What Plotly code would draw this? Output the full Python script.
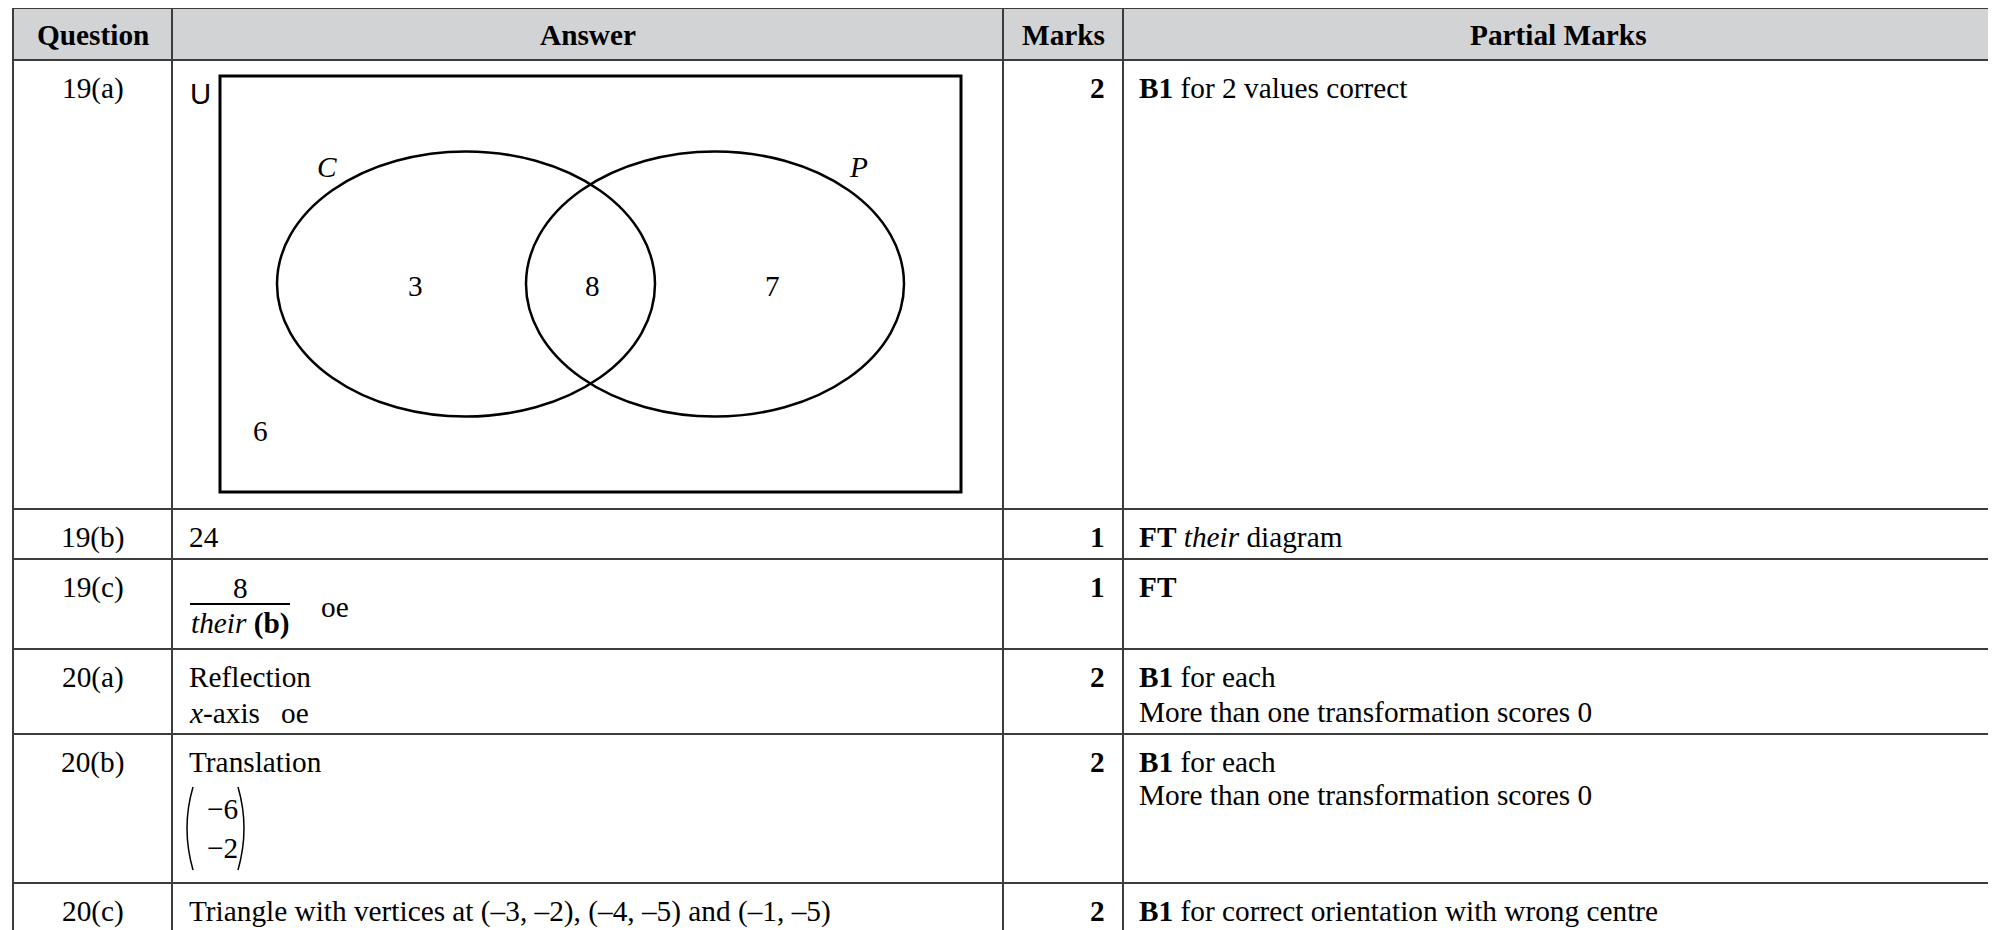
import plotly.graph_objects as go

# Table content
headers = ["Question", "Answer", "Marks", "Partial Marks"]
questions = ["19(a)", "19(b)", "19(c)", "20(a)", "20(b)", "20(c)"]
marks = [2, 1, 1, 2, 2, 2]
answers = [
    [],
    ["24"],
    [],
    ["Reflection", "<i>x</i>-axis"],
    ["Translation"],
    ["Triangle with vertices at (–3, –2), (–4, –5) and (–1, –5)"],
]
partial_marks = [
    ["<b>B1</b> for 2 values correct"],
    ["<b>FT</b> <i>their</i> diagram"],
    ["<b>FT</b>"],
    ["<b>B1</b> for each", "More than one transformation scores 0"],
    ["<b>B1</b> for each", "More than one transformation scores 0"],
    ["<b>B1</b> for correct orientation with wrong centre"],
]

# Venn diagram content for 19(a)
venn_sets = ["C", "P"]
venn_regions = ["C only", "C and P", "P only", "neither"]
venn_counts = [3, 8, 7, 6]

# 19(c) fraction and 20(b) vector
frac_num = "8"
frac_den = "<i>their</i> <b>(b)</b>"
vector = [-6, -2]

# Layout (page pixels); the page body adds an 8px margin, so the axes are shifted by it
W, H = 1996, 930
OFF = 8
col_edges = [13, 172, 1003, 1123, 1993]
row_edges = [8, 60, 509, 559, 649, 734, 883, 965]
FONT = "Liberation Serif"
FS = 29.3
GRID = "#3c3c3c"

fig = go.Figure()
fig.add_trace(go.Scatter(x=[OFF, W + OFF], y=[OFF, H + OFF], mode="markers",
                         marker=dict(opacity=0), hoverinfo="skip", showlegend=False))

shapes = []
annos = []


def txt(x, y, s, xanchor="left", size=FS, family=FONT):
    annos.append(dict(x=x, y=y, text=s, xanchor=xanchor, yanchor="middle",
                      showarrow=False, font=dict(family=family, size=size, color="black")))


# header background
shapes.append(dict(type="rect", x0=col_edges[0], x1=col_edges[-1], y0=row_edges[0], y1=row_edges[1],
                   fillcolor="#d2d3d5", line=dict(width=0), layer="below"))

# grid lines
for y in row_edges[:-1]:
    shapes.append(dict(type="line", x0=col_edges[0], x1=col_edges[-1], y0=y, y1=y,
                       line=dict(color=GRID, width=2)))
for i, x in enumerate(col_edges):
    w = 3 if i == len(col_edges) - 1 else 2
    shapes.append(dict(type="line", x0=x, x1=x, y0=row_edges[0], y1=row_edges[-1],
                       line=dict(color=GRID, width=w)))

# header text
for i, h in enumerate(headers):
    cx = (col_edges[i] + col_edges[i + 1]) / 2
    txt(cx, 35, "<b>" + h + "</b>", xanchor="center")

q_cx = (col_edges[0] + col_edges[1]) / 2
ans_x = col_edges[1] + 15
mark_x = col_edges[3] - 16
pm_x = col_edges[3] + 14

for r in range(len(questions)):
    top = row_edges[r + 1]
    y1 = top + 28
    txt(q_cx, y1, questions[r], xanchor="center")
    txt(mark_x, y1, "<b>%d</b>" % marks[r], xanchor="right")
    for k, line in enumerate(answers[r]):
        txt(ans_x, y1 + k * 36, line)
    for k, line in enumerate(partial_marks[r]):
        gap = 35 if r == 3 else 33
        txt(pm_x, y1 + k * gap, line)

# "oe" marks
txt(279, row_edges[4] + 28 + 36, "oe")

# 19(c) fraction
fx0, fx1, fy = 190, 290, 604
txt((fx0 + fx1) / 2, fy - 16, frac_num, xanchor="center")
shapes.append(dict(type="line", x0=fx0, x1=fx1, y0=fy, y1=fy, line=dict(color="black", width=2)))
txt((fx0 + fx1) / 2, fy + 19, frac_den, xanchor="center")
txt(319, fy + 3, "oe")

# 20(b) column vector
vt, vb = 787, 870
vm = (vt + vb) / 2
shapes.append(dict(type="path", path="M 193 %d Q 181 %d 193 %d" % (vt, vm, vb),
                   line=dict(color="black", width=1.5)))
shapes.append(dict(type="path", path="M 238 %d Q 250 %d 238 %d" % (vt, vm, vb),
                   line=dict(color="black", width=1.5)))
for k, v in enumerate(vector):
    txt(240, 809 + k * 39, "\u2212%d" % abs(v), xanchor="right")

# Venn diagram
rx0, rx1, ry0, ry1 = 220, 961, 76, 492
shapes.append(dict(type="rect", x0=rx0, x1=rx1, y0=ry0, y1=ry1, line=dict(color="black", width=3)))
txt(200, 93, "U", xanchor="center", family="Liberation Sans")
cy, erx, ery = 284, 189, 132.5
centres = [466, 715]
for cx in centres:
    shapes.append(dict(type="circle", x0=cx - erx, x1=cx + erx, y0=cy - ery, y1=cy + ery,
                       line=dict(color="black", width=2.5)))
set_label_pos = [(327, 167), (858, 167)]
for name, (lx, ly) in zip(venn_sets, set_label_pos):
    txt(lx, ly, "<i>" + name + "</i>", xanchor="center")
region_pos = [(415, 286), (592, 286), (772, 286), (260, 431)]
for cnt, (lx, ly) in zip(venn_counts, region_pos):
    txt(lx, ly, str(cnt), xanchor="center")

fig.update_layout(
    width=W, height=H, margin=dict(l=0, r=0, t=0, b=0),
    paper_bgcolor="white", plot_bgcolor="white",
    xaxis=dict(range=[OFF, W + OFF], visible=False, fixedrange=True),
    yaxis=dict(range=[H + OFF, OFF], visible=False, fixedrange=True),
    shapes=shapes, annotations=annos, showlegend=False,
)
fig.write_html("out.html")
